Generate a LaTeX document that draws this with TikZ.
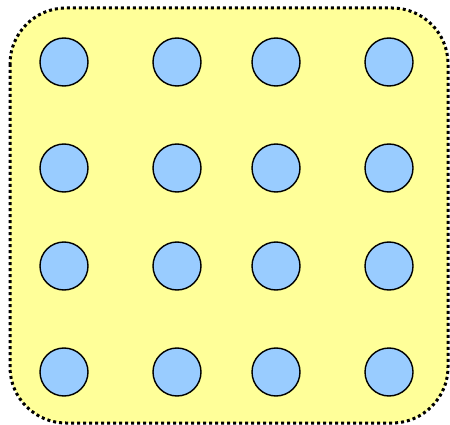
\documentclass[tikz,border=0pt]{standalone}
\definecolor{bgyellow}{HTML}{FFFF99}
\definecolor{dotblue}{HTML}{99CCFF}
\begin{document}
\begin{tikzpicture}[x=1pt,y=-1pt,
  frame/.style={draw=black,fill=bgyellow,line width=3pt,dash pattern=on 3pt off 3pt,rounded corners=56pt},
  dot/.style={circle,draw=black,fill=dotblue,line width=1.4pt,minimum size=48pt,inner sep=0pt}]
\useasboundingbox (0,0) rectangle (450,425);
\draw[frame] (10,8) rectangle (448,423);
\foreach \x [count=\i] in {64,177,276,389}{
  \foreach \y [count=\j] in {62,168,266,372}{
    \node[dot] (c\i\j) at (\x,\y) {};
  }
}
\end{tikzpicture}
\end{document}
